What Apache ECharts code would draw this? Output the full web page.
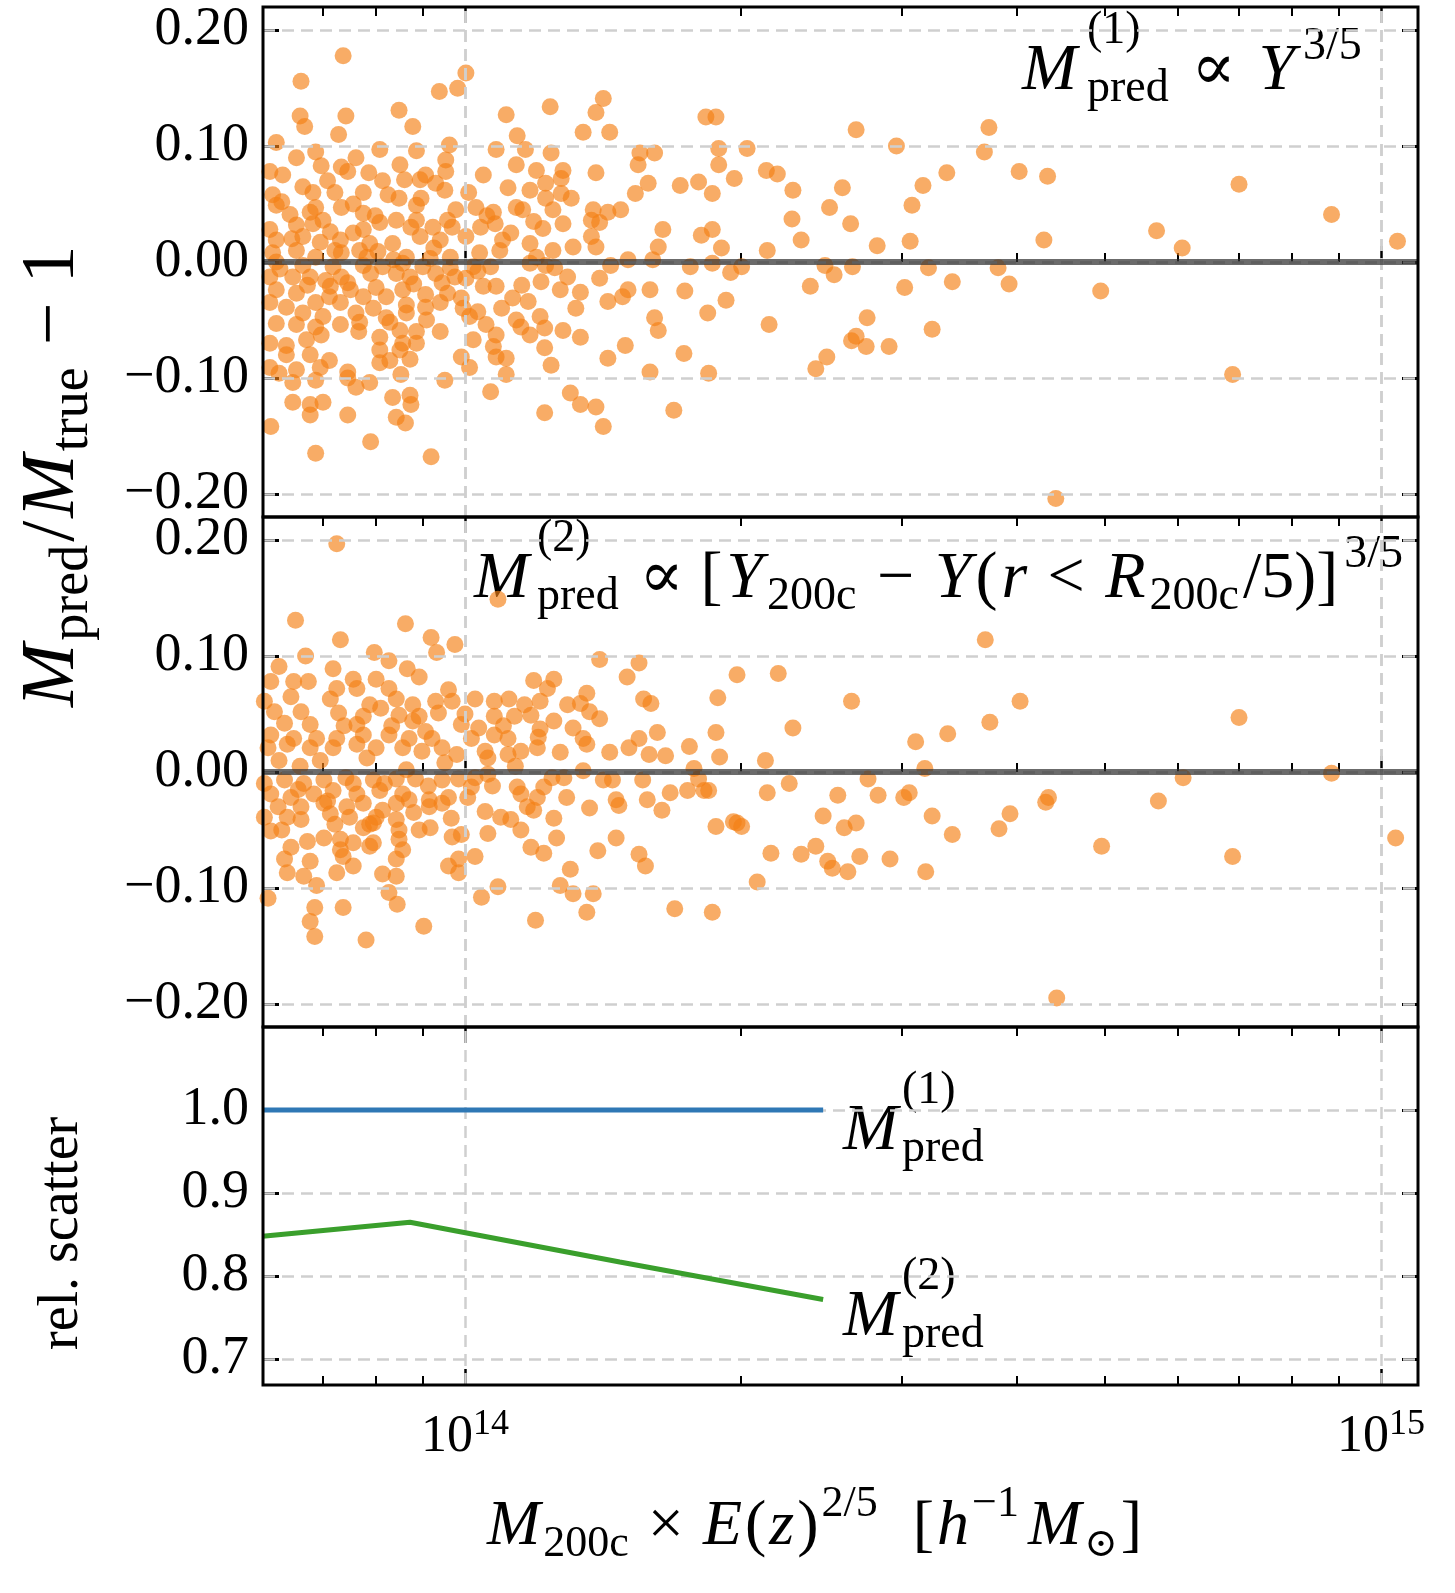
<!DOCTYPE html>
<html><head><meta charset="utf-8">
<script src="https://cdn.jsdelivr.net/npm/echarts@6/dist/echarts.min.js"></script>
<style>html,body{margin:0;padding:0;background:#fff;overflow:hidden}#c{width:1455px;height:1593px}</style>
</head><body><div id="c"></div>
<script>
// x values are log10(M200c E(z)^{2/5} / h^-1 Msun)
const xMajorTicks = [14, 15];
const xMinorTicks = [7e13, 8e13, 9e13, 2e14, 3e14, 4e14, 5e14, 6e14, 7e14, 8e14, 9e14].map(Math.log10);
const yTicksTop = [-0.2, -0.1, 0, 0.1, 0.2];
const yTicksBottom = [0.7, 0.8, 0.9, 1.0];

const scatter1 = [
[13.867,0.178],[13.821,0.156],[14.001,0.163],[13.992,0.150],[13.972,0.147],[13.820,0.126],[13.870,0.126],[13.825,0.117],[13.862,0.110],[13.928,0.131],[13.943,0.117],[13.794,0.103],[14.045,0.127],[14.093,0.134],[14.151,0.141],[14.143,0.129],[14.129,0.112],[14.158,0.112],[14.057,0.109],[14.034,0.097],[14.066,0.097],[14.094,0.094],[13.907,0.097],[13.947,0.096],[13.983,0.101],[13.837,0.095],[13.816,0.090],[13.843,0.083],[13.979,0.088],[13.929,0.084],[13.865,0.082],[13.872,0.078],[13.787,0.078],[13.801,0.075],[13.895,0.077],[13.979,0.078],[13.957,0.075],[14.020,0.075],[14.056,0.084],[14.078,0.079],[14.107,0.079],[14.143,0.077],[14.105,0.072],[14.088,0.068],[13.823,0.065],[13.834,0.060],[13.858,0.060],[13.889,0.060],[13.910,0.070],[13.934,0.071],[13.951,0.071],[13.968,0.068],[13.978,0.062],[14.047,0.064],[14.071,0.062],[14.105,0.059],[14.186,0.059],[14.191,0.094],[14.189,0.084],[14.207,0.094],[14.200,0.068],[13.790,0.058],[13.794,0.049],[13.837,0.047],[13.865,0.047],[13.928,0.055],[13.947,0.049],[13.990,0.045],[14.012,0.047],[14.056,0.047],[14.088,0.055],[14.170,0.045],[14.140,0.045],[14.156,0.043],[13.831,0.043],[13.889,0.042],[13.809,0.041],[14.031,0.043],[14.033,0.033],[14.063,0.045],[14.096,0.045],[13.907,0.034],[13.925,0.036],[13.947,0.036],[13.981,0.036],[14.138,0.036],[14.147,0.034],[13.816,0.032],[13.834,0.033],[13.965,0.030],[14.017,0.030],[14.107,0.033],[14.085,0.029],[13.787,0.028],[13.853,0.026],[13.878,0.025],[13.889,0.028],[13.794,0.019],[13.823,0.022],[13.842,0.017],[13.864,0.019],[13.896,0.016],[13.921,0.016],[13.951,0.022],[13.973,0.019],[14.001,0.022],[14.041,0.019],[14.071,0.016],[14.118,0.013],[14.138,0.022],[14.143,0.013],[14.216,0.028],[14.211,0.013],[14.096,0.010],[14.016,0.008],[13.790,0.008],[13.816,0.010],[13.837,0.004],[13.865,0.008],[13.885,0.010],[13.905,0.009],[13.936,0.004],[13.984,0.004],[13.962,0.003],[14.038,0.010],[14.078,0.004],[14.178,0.002],[14.205,0.002],
[13.794,0],[13.823,-0.003],[13.856,-0.004],[13.889,-0.003],[13.910,-0.004],[13.932,-0.001],[13.954,-0.004],[13.984,-0.005],[14.009,-0.004],[14.028,-0.004],[14.071,-0.001],[14.088,-0.003],[14.159,-0.003],
[13.787,-0.013],[13.812,-0.013],[13.831,-0.013],[13.848,-0.016],[13.865,-0.013],[13.897,-0.010],[13.925,-0.010],[13.940,-0.013],[13.968,-0.010],[13.989,-0.013],[14.001,-0.014],[14.020,-0.021],[14.034,-0.021],[14.083,-0.017],[14.112,-0.013],[14.147,-0.014],[14.178,-0.024],[14.202,-0.024],[14.104,-0.024],[14.126,-0.026],[13.794,-0.024],[13.816,-0.027],[13.853,-0.021],[13.875,-0.024],[13.889,-0.030],[13.914,-0.030],[13.932,-0.024],[13.957,-0.028],[13.981,-0.027],[13.996,-0.031],[13.787,-0.035],[13.805,-0.039],[13.837,-0.035],[13.864,-0.035],[13.900,-0.040],[13.936,-0.037],[13.957,-0.039],[13.973,-0.035],[14.052,-0.031],[14.069,-0.034],[14.156,-0.034],[14.172,-0.030],[13.823,-0.044],[13.845,-0.047],[13.881,-0.044],[13.914,-0.048],[13.936,-0.044],[14.014,-0.043],[14.005,-0.047],[14.121,-0.040],[14.056,-0.050],[14.082,-0.047],[14.207,-0.048],[13.794,-0.053],[13.816,-0.054],[13.837,-0.056],[13.864,-0.054],[13.885,-0.052],[13.929,-0.059],[13.947,-0.060],[13.973,-0.060],[14.023,-0.054],[14.061,-0.056],[14.087,-0.057],[14.107,-0.059],[14.126,-0.065],[14.211,-0.059],[14.034,-0.063],[14.071,-0.063],[13.787,-0.070],[13.805,-0.072],[13.827,-0.067],[13.843,-0.063],[13.907,-0.065],[13.932,-0.070],[13.947,-0.070],[13.907,-0.076],[14.031,-0.073],[14.087,-0.074],[14.175,-0.072],[14.009,-0.067],[13.831,-0.080],[13.929,-0.076],[13.940,-0.084],[13.907,-0.087],[13.996,-0.082],[14.005,-0.091],[14.034,-0.082],[14.045,-0.083],[14.094,-0.089],[14.156,-0.083],[13.787,-0.091],[13.816,-0.093],[13.842,-0.091],[13.872,-0.095],[13.797,-0.096],[14.045,-0.097],[14.202,-0.095],[13.930,-0.097],[13.812,-0.104],[13.837,-0.102],[13.872,-0.100],[13.896,-0.104],[13.978,-0.102],[13.881,-0.108],[14.028,-0.112],[14.115,-0.113],[13.812,-0.121],[13.831,-0.123],[13.845,-0.121],[13.921,-0.117],[13.940,-0.115],[13.941,-0.123],[14.126,-0.123],[14.143,-0.125],[14.087,-0.130],[13.831,-0.132],[13.872,-0.132],[13.925,-0.134],[13.935,-0.139],[14.151,-0.142],[13.788,-0.142],[13.897,-0.155],[13.837,-0.165],[13.963,-0.168],[13.779,0.131],[13.779,-0.136],
[13.800,0.052],[13.811,0.020],[13.828,-0.020],[13.845,0.036],[13.852,-0.030],[13.858,0.010],[13.872,-0.018],[13.878,0.050],[13.884,-0.060],[13.893,0.004],[13.902,0.040],[13.903,-0.022],[13.916,0.058],[13.918,-0.052],[13.922,0.002],[13.941,0.030],[13.944,-0.019],[13.952,0.055],[13.958,-0.050],[13.966,0.012],[13.975,-0.018],[13.986,0.030],[13.998,-0.040],[14.004,0.060],[14.014,-0.008],[14.024,0.040],[14.040,-0.040],[14.050,0.025],[14.062,-0.020],[14.075,0.035],[14.098,-0.005],[14.116,0.055],[13.805,-0.080],[13.852,-0.085],[13.881,0.090],[13.798,-0.006],[13.850,0.070],[13.918,-0.085],
[15.018,0.018],[14.946,0.041],[14.845,0.067],[14.838,-0.097],[14.783,0.012],[14.755,0.027],[14.694,-0.025],[14.645,-0.204],[14.636,0.074],[14.632,0.019],[14.605,0.078],[14.594,-0.019],[14.582,-0.005],[14.572,0.116],[14.567,0.095],[14.532,-0.017],[14.526,0.077],[14.506,-0.005],[14.510,-0.058],[14.500,0.066],[14.488,0.049],[14.486,0.018],[14.480,-0.022],[14.471,0.100],[14.463,-0.073],[14.450,0.014],[14.439,-0.048],[14.438,-0.073],[14.427,0.114],[14.427,-0.064],[14.423,-0.004],[14.422,-0.068],[14.421,0.033],[14.412,0.064],[14.403,-0.011],[14.398,0.047],[14.395,-0.082],[14.393,-0.003],[14.383,-0.092],[14.377,-0.021],[14.367,0.019],[14.358,0.062],[14.357,0.037],[14.341,0.076],[14.332,-0.054],[14.329,0.079],[14.330,0.010],[14.308,0.098],[14.302,-0.004],[14.294,0.072],[14.290,-0.009],[14.285,-0.033],[14.280,0.012],[14.277,0.098],[14.277,0.084],[14.274,0.125],[14.270,0.028],[14.270,0.059],[14.270,-0.001],[14.265,-0.044],[14.266,-0.096],[14.263,0.125],[14.258,0.023],[14.255,0.069],[14.246,-0.004],[14.240,-0.025],[14.239,-0.079],[14.235,0.066],[14.228,-0.128]
];

const scatter2 = [
[13.860,0.197],[13.815,0.131],[13.864,0.114],[13.935,0.128],[13.963,0.116],[13.969,0.103],[13.989,0.110],[14.036,0.149],[13.826,0.100],[13.901,0.103],[13.797,0.091],[13.856,0.089],[13.917,0.096],[13.937,0.089],[13.950,0.082],[13.788,0.078],[13.813,0.078],[13.829,0.078],[13.878,0.080],[13.903,0.080],[13.860,0.072],[13.882,0.072],[13.917,0.072],[13.982,0.071],[14.075,0.079],[14.097,0.080],[14.090,0.072],[14.147,0.097],[14.190,0.094],[14.177,0.082],
[13.781,0.061],[13.810,0.065],[13.853,0.063],[13.896,0.058],[13.925,0.063],[13.943,0.058],[13.968,0.061],[13.986,0.061],[14.011,0.063],[14.032,0.061],[14.048,0.063],[14.065,0.058],[14.082,0.061],[14.133,0.068],[14.126,0.059],[14.195,0.063],[14.203,0.059],
[13.792,0.052],[13.821,0.052],[13.862,0.051],[13.889,0.048],[13.928,0.049],[13.950,0.048],[13.971,0.051],[14.032,0.048],[14.054,0.048],[14.072,0.049],[14.136,0.052],[14.147,0.046],[13.996,0.041],[13.803,0.042],[13.831,0.041],[13.882,0.041],[13.943,0.044],[14.097,0.044],[14.118,0.038],[14.082,0.037],
[13.788,0.032],[13.813,0.029],[13.838,0.029],[13.860,0.029],[13.889,0.032],[13.917,0.032],[13.939,0.029],[13.964,0.029],[14.007,0.029],[14.032,0.032],[14.047,0.029],[14.129,0.029],[14.210,0.034],[14.190,0.029],
[13.785,0.021],[13.806,0.024],[13.831,0.021],[13.856,0.021],[13.882,0.024],[13.903,0.021],[13.932,0.021],[13.953,0.018],[13.975,0.021],[13.991,0.015],[14.022,0.018],[14.025,0.012],[14.047,0.015],[14.061,0.018],[14.079,0.021],[14.104,0.017],[14.133,0.024],[14.158,0.017],[14.179,0.021],[14.201,0.015],[14.219,0.014],
[13.781,-0.010],[13.803,-0.007],[13.824,-0.010],[13.846,-0.007],[13.878,-0.010],[13.900,-0.007],[13.925,-0.006],[13.946,-0.006],[13.975,-0.007],[13.993,-0.006],[14.011,-0.005],[14.025,-0.002],[14.057,-0.013],[14.086,-0.013],[14.108,-0.005],[14.129,0.001],[14.151,-0.007],[14.161,-0.007],[14.194,-0.007],
[13.788,-0.019],[13.810,-0.022],[13.835,-0.019],[13.856,-0.016],[13.882,-0.019],[13.907,-0.016],[13.932,-0.019],[13.961,-0.024],[13.982,-0.022],[14.007,-0.013],[14.061,-0.019],[14.079,-0.022],[14.111,-0.022],[14.165,-0.024],[14.199,-0.024],
[13.796,-0.030],[13.821,-0.030],[13.846,-0.027],[13.871,-0.030],[13.889,-0.027],[13.910,-0.033],[13.925,-0.027],[13.939,-0.024],[13.961,-0.030],[13.975,-0.027],[14.136,-0.031],[14.215,-0.033],[14.168,-0.029],
[13.781,-0.039],[13.806,-0.039],[13.821,-0.041],[13.853,-0.036],[13.874,-0.039],[13.903,-0.039],[13.925,-0.041],[14.022,-0.034],[14.039,-0.039],[14.050,-0.041],[14.075,-0.033],[14.097,-0.040],
[13.788,-0.051],[13.889,-0.048],[13.900,-0.044],[13.928,-0.050],[13.950,-0.050],[13.962,-0.048],[14.061,-0.050],
[13.846,-0.057],[13.864,-0.058],[13.878,-0.061],[13.900,-0.061],[13.928,-0.058],[13.986,-0.056],[13.996,-0.054],[14.025,-0.053],[14.100,-0.057],[14.165,-0.057],
[13.828,-0.060],[13.810,-0.065],[13.864,-0.067],[13.932,-0.067],[14.072,-0.065],[14.086,-0.070],[14.145,-0.068],[14.190,-0.071],[13.896,-0.064],
[13.803,-0.075],[13.831,-0.077],[13.867,-0.073],[13.925,-0.075],[13.993,-0.075],[14.011,-0.073],[14.197,-0.081],
[13.806,-0.087],[13.824,-0.090],[13.860,-0.087],[13.878,-0.081],[13.910,-0.088],[13.925,-0.090],[13.982,-0.081],[13.993,-0.087],[14.115,-0.084],[14.104,-0.098],[13.838,-0.098],
[13.785,-0.109],[13.917,-0.104],[14.036,-0.099],[14.018,-0.108],[14.118,-0.105],[14.140,-0.105],[13.926,-0.114],[13.836,-0.117],[13.867,-0.117],[14.133,-0.121],[13.831,-0.129],[13.955,-0.133],[14.077,-0.128],[13.836,-0.142],[13.892,-0.145],[13.779,0.107],[13.779,-0.108],
[13.797,0.010],[13.818,-0.015],[13.842,0.010],[13.850,-0.025],[13.868,0.040],[13.870,-0.005],[13.893,0.012],[13.896,-0.045],[13.908,0.055],[13.912,-0.010],[13.920,0.040],[13.936,0.002],[13.944,-0.035],[13.957,0.035],[13.960,-0.012],[13.978,0.008],[13.985,-0.040],[14.000,0.050],[14.003,-0.022],[14.015,0.038],[14.030,-0.012],[14.042,0.040],[14.055,0.005],[14.068,-0.030],[14.080,0.030],[14.095,-0.005],[14.112,0.058],[13.800,-0.050],[13.858,-0.045],[13.820,0.005],
[15.016,-0.057],[14.946,-0.001],[14.845,0.047],[14.838,-0.073],[14.784,-0.005],[14.757,-0.025],[14.695,-0.064],[14.646,-0.195],[14.637,-0.022],[14.634,-0.026],[14.606,0.061],[14.595,-0.036],[14.583,-0.049],[14.573,0.043],[14.568,0.114],[14.532,-0.054],[14.527,0.033],[14.510,-0.038],[14.503,-0.086],[14.502,0.003],[14.492,0.026],[14.485,-0.018],[14.479,-0.022],[14.464,-0.075],[14.451,-0.020],[14.440,-0.006],[14.431,-0.073],[14.427,-0.044],[14.422,0.061],[14.418,-0.086],[14.414,-0.048],[14.407,-0.020],[14.401,-0.083],[14.396,-0.077],[14.391,-0.038],[14.383,-0.064],[14.367,-0.071],[14.358,0.038],[14.354,-0.010],[14.342,0.085],[14.334,-0.070],[14.330,-0.018],[14.328,0.010],[14.319,-0.095],[14.302,-0.047],[14.297,0.084],[14.297,-0.044],[14.293,-0.043],[14.278,0.013],[14.276,0.064],[14.274,0.034],[14.274,-0.047],[14.270,-0.121],[14.266,-0.016],[14.261,-0.016],[14.255,-0.006],[14.250,0.003],[14.245,0.022],[14.243,-0.016],[14.229,-0.118],[14.224,-0.018]
];

const scatterRel1 = [[13.779, 1.0], [14.391, 1.0]];
const scatterRel2 = [[13.779, 0.848], [13.94, 0.865], [14.169, 0.817], [14.391, 0.772]];

const XMIN = 13.7795, XMAX = 15.0404;
const SERIF = '"Liberation Serif", "DejaVu Serif", serif';
const grids = [
  {left: 263, width: 1155, top: 7, height: 510},
  {left: 263, width: 1155, top: 517, height: 510},
  {left: 263, width: 1155, top: 1027, height: 358}
];
const tickStyle = {color: '#000', width: 2.5};
function xAxesFor(gi, labels) {
  const base = {gridIndex: gi, type: 'value', min: XMIN, max: XMAX, axisLine: {show: false}, splitLine: {show: false}};
  const major = pos => Object.assign({}, base, {position: pos,
    axisTick: {inside: true, length: 16, lineStyle: tickStyle, customValues: xMajorTicks},
    axisLabel: {show: labels && pos === 'bottom', customValues: xMajorTicks, margin: 22,
      formatter: v => '{b|10}{s|' + Math.round(v) + '}',
      rich: {b: {fontFamily: SERIF, fontSize: 52, lineHeight: 60, color: '#000'},
             s: {fontFamily: SERIF, fontSize: 36, lineHeight: 36, verticalAlign: 'top', color: '#000'}}}});
  const minor = pos => Object.assign({}, base, {position: pos,
    axisTick: {inside: true, length: 9, lineStyle: {color: '#000', width: 2}, customValues: xMinorTicks},
    axisLabel: {show: false}});
  return [major('bottom'), minor('bottom'), major('top'), minor('top')];
}
function yAxesFor(gi, min, max, ticks, dec) {
  const base = {gridIndex: gi, type: 'value', min: min, max: max, axisLine: {show: false}, splitLine: {show: false}};
  return [
    Object.assign({}, base, {position: 'left',
      axisTick: {inside: true, length: 16, lineStyle: {color: '#000', width: 3}, customValues: ticks},
      axisLabel: {customValues: ticks, margin: 14, fontFamily: SERIF, fontSize: 54, color: '#000',
        formatter: v => (v < 0 ? '\u2212' : '') + Math.abs(v).toFixed(dec)}}),
    Object.assign({}, base, {position: 'right',
      axisTick: {inside: true, length: 16, lineStyle: {color: '#000', width: 3}, customValues: ticks},
      axisLabel: {show: false}})
  ];
}
const xAxis = [...xAxesFor(0, false), ...xAxesFor(1, false), ...xAxesFor(2, true)];
const yAxis = [...yAxesFor(0, -0.22, 0.22, yTicksTop, 2), ...yAxesFor(1, -0.22, 0.22, yTicksTop, 2), ...yAxesFor(2, 0.669, 1.1, yTicksBottom, 1)];

const gridLineStyle = {color: '#cfcfcf', width: 2.5, type: [12, 7]};
function gridSeries(gi, yTicks, zero) {
  const lines = xMajorTicks.map(v => ({xAxis: v, lineStyle: gridLineStyle}))
    .concat(yTicks.map(v => ({yAxis: v, lineStyle: gridLineStyle})));
  if (zero) lines.push({yAxis: 0, lineStyle: {color: 'rgba(50,50,50,0.72)', width: 6, type: 'solid'}});
  return {type: 'line', xAxisIndex: gi * 4, yAxisIndex: gi * 2, data: [], z: 1, silent: true,
    markLine: {silent: true, symbol: 'none', label: {show: false}, animation: false, data: lines}};
}
const dot = {color: 'rgba(244,128,22,0.82)'};
const series = [
  gridSeries(0, yTicksTop, false),
  gridSeries(1, yTicksTop, false),
  gridSeries(2, yTicksBottom, false),
  {type: 'scatter', xAxisIndex: 0, yAxisIndex: 0, data: scatter1, symbolSize: 17, itemStyle: dot, z: 3},
  {type: 'scatter', xAxisIndex: 4, yAxisIndex: 2, data: scatter2, symbolSize: 17, itemStyle: dot, z: 3},
  Object.assign(gridSeries(0, [], true), {z: 4}),
  Object.assign(gridSeries(1, [], true), {z: 4}),
  {type: 'line', xAxisIndex: 8, yAxisIndex: 4, data: scatterRel1, symbol: 'none', lineStyle: {color: '#2f78b5', width: 5}, z: 10},
  {type: 'line', xAxisIndex: 8, yAxisIndex: 4, data: scatterRel2, symbol: 'none', lineStyle: {color: '#3a9f2c', width: 5}, z: 10}
];

// --- math-like text layout helper ---
const mctx = document.createElement('canvas').getContext('2d');
function fontStr(fs, it) { return (it ? 'italic ' : '') + fs + 'px ' + SERIF; }
function tw(t, fs, it) { mctx.font = fontStr(fs, it); return mctx.measureText(t).width; }
function txt(t, x, base, fs, it) {
  return {type: 'text', style: {text: t, x: 0, y: 0, font: fontStr(fs, it), fill: '#000', verticalAlign: 'bottom'},
    position: [x, base + 0.22 * fs], silent: true};
}
function layout(segs, x0, base, sp) {
  const out = []; let x = x0; sp = sp || 0;
  for (const s of segs) {
    if (s.stack) {
      const [sup, sub, fs, dsup, dsub] = s.stack;
      out.push(txt(sup, x, base + dsup, fs, false));
      out.push(txt(sub, x, base + dsub, fs, false));
      x += Math.max(tw(sup, fs, false), tw(sub, fs, false)) + (s.gap || 0) + sp;
    } else {
      out.push(txt(s.t, x, base + (s.dy || 0), s.fs, !!s.it));
      x += tw(s.t, s.fs, !!s.it) + (s.gap || 0) + sp;
    }
  }
  return out;
}
const A = 66, S = 46;
const ann1 = layout([
  {t: 'M', fs: A, it: true, gap: 4},
  {stack: ['(1)', 'pred', S, -46, 12]},
  {t: ' \u221D ', fs: A},
  {t: 'Y', fs: A, it: true, gap: 2},
  {t: '3/5', fs: S, dy: -30}
], 1022, 90, 6);
const ann2 = layout([
  {t: 'M', fs: A, it: true, gap: 4},
  {stack: ['(2)', 'pred', S, -46, 12]},
  {t: ' \u221D [', fs: A},
  {t: 'Y', fs: A, it: true},
  {t: '200c', fs: S, dy: 12},
  {t: ' \u2212 ', fs: A},
  {t: 'Y', fs: A, it: true},
  {t: '(', fs: A},
  {t: 'r', fs: A, it: true},
  {t: ' < ', fs: A},
  {t: 'R', fs: A, it: true},
  {t: '200c', fs: S, dy: 12},
  {t: '/5)]', fs: A, gap: 2},
  {t: '3/5', fs: S, dy: -30}
], 474, 598, 4);
const lab1 = layout([{t: 'M', fs: A, it: true, gap: 4}, {stack: ['(1)', 'pred', S, -46, 12]}], 843, 1150);
const lab2 = layout([{t: 'M', fs: A, it: true, gap: 4}, {stack: ['(2)', 'pred', S, -46, 12]}], 843, 1336);
const xTitle = layout([
  {t: 'M', fs: 64, it: true},
  {t: '200c', fs: 44, dy: 12},
  {t: ' \u00D7 ', fs: 64},
  {t: 'E', fs: 64, it: true},
  {t: '(', fs: 64},
  {t: 'z', fs: 64, it: true},
  {t: ')', fs: 64},
  {t: '2/5', fs: 44, dy: -28},
  {t: '  [', fs: 64},
  {t: 'h', fs: 64, it: true},
  {t: '\u22121', fs: 44, dy: -28, gap: 6},
  {t: 'M', fs: 64, it: true},
  {t: '\u2299', fs: 40, dy: 12},
  {t: ']', fs: 64}
], 487, 1545, 3);
const yTitle = layout([
  {t: 'M', fs: 76, it: true},
  {t: 'pred', fs: 54, dy: 14},
  {t: '/', fs: 76},
  {t: 'M', fs: 76, it: true},
  {t: 'true', fs: 54, dy: 14},
  {t: ' \u2212 1', fs: 76}
], 0, 0, 3);
const relTitle = layout([{t: 'rel. scatter', fs: 56}], 0, 0);

const graphic = [
  {type: 'group', children: ann1}, {type: 'group', children: ann2},
  {type: 'group', children: lab1}, {type: 'group', children: lab2},
  {type: 'group', children: xTitle},
  {type: 'group', x: 74, y: 707, rotation: Math.PI / 2, children: yTitle},
  {type: 'group', x: 78, y: 1350, rotation: Math.PI / 2, children: relTitle},
  ...grids.map(g => ({type: 'rect', shape: {x: g.left, y: g.top, width: g.width, height: g.height}, style: {fill: 'none', stroke: '#000', lineWidth: 3}, z: 100, silent: true}))
];

const chart = echarts.init(document.getElementById('c'), null, {renderer: 'canvas'});
chart.setOption({animation: false, grid: grids, xAxis, yAxis, series, graphic});
</script></body></html>
